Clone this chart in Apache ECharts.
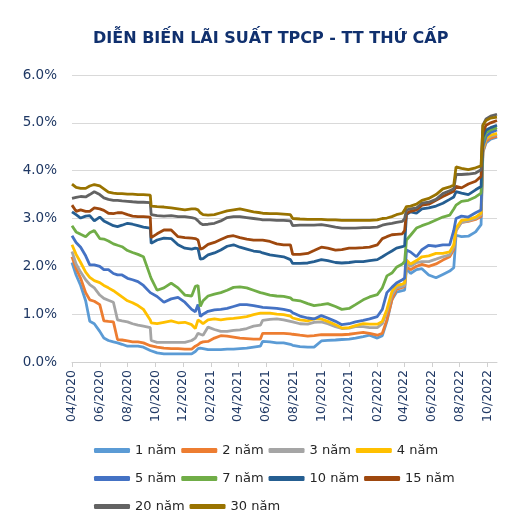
<!DOCTYPE html>
<html><head><meta charset="utf-8">
<script src="https://cdn.jsdelivr.net/npm/echarts@6/dist/echarts.min.js"></script>
<style>html,body{margin:0;padding:0;background:#fff}#c{width:520px;height:523px}</style>
</head><body><div id="c"></div>
<script>
const dates = ['2020-04-01','2020-04-10','2020-04-20','2020-05-01','2020-05-10','2020-05-20','2020-06-01','2020-06-10','2020-06-20','2020-07-01',
'2020-07-10','2020-07-20','2020-08-01','2020-08-12','2020-08-24','2020-09-05','2020-09-20','2020-09-22','2020-10-05','2020-10-20',
'2020-11-05','2020-11-20','2020-12-05','2020-12-20','2020-12-28','2021-01-03','2021-01-08','2021-01-14','2021-01-25','2021-02-08',
'2021-02-22','2021-03-08','2021-03-22','2021-04-05','2021-04-20','2021-05-05','2021-05-20','2021-05-25','2021-06-10','2021-06-25',
'2021-07-10','2021-07-25','2021-07-30','2021-08-15','2021-09-01','2021-09-15','2021-10-01','2021-10-15','2021-11-01','2021-11-15',
'2021-12-01','2021-12-15','2022-01-01','2022-01-15','2022-02-01','2022-02-12','2022-02-22','2022-03-05','2022-03-15','2022-03-28',
'2022-04-02','2022-04-06','2022-04-15','2022-04-28','2022-05-10','2022-05-25','2022-06-10','2022-06-25','2022-07-10','2022-07-19',
'2022-07-24','2022-08-05','2022-08-20','2022-09-05','2022-09-17','2022-09-21','2022-09-28','2022-10-08','2022-10-22'];

const tickLabels = ['04/2020','06/2020','08/2020','10/2020','12/2020','02/2021','04/2021','06/2021','08/2021','10/2021','12/2021','02/2022','04/2022','06/2022','08/2022','10/2022'];
const axisStart = '2020-04-01';
const axisEnd = '2022-10-22';

const seriesNames = ['1 năm','2 năm','3 năm','4 năm','5 năm','7 năm','10 năm','15 năm','20 năm','30 năm'];

const y1 = [2.08,1.82,1.6,1.28,0.85,0.8,0.64,0.5,0.45,0.42,
0.4,0.37,0.33,0.33,0.33,0.31,0.24,0.23,0.19,0.17,
0.17,0.17,0.17,0.17,0.22,0.28,0.29,0.28,0.26,0.26,
0.26,0.27,0.27,0.28,0.29,0.31,0.33,0.43,0.42,0.4,
0.4,0.37,0.35,0.32,0.31,0.31,0.44,0.45,0.46,0.47,
0.48,0.5,0.53,0.56,0.5,0.55,0.85,1.3,1.46,1.49,
1.5,1.96,1.85,1.93,1.95,1.82,1.76,1.83,1.9,1.97,
2.65,2.62,2.63,2.72,2.87,4.38,4.58,4.66,4.7];

const y2 = [2.2,1.95,1.75,1.45,1.3,1.27,1.2,0.86,0.85,0.84,
0.47,0.46,0.44,0.42,0.42,0.4,0.34,0.33,0.31,0.29,
0.28,0.28,0.27,0.27,0.33,0.36,0.4,0.42,0.43,0.5,
0.55,0.54,0.52,0.5,0.49,0.48,0.48,0.6,0.6,0.6,
0.6,0.59,0.58,0.56,0.54,0.55,0.57,0.57,0.57,0.57,
0.58,0.6,0.62,0.6,0.56,0.6,0.88,1.3,1.52,1.56,
1.58,1.99,1.93,2.0,2.04,2.0,2.05,2.13,2.2,2.35,
2.75,2.92,2.94,2.98,3.04,4.4,4.62,4.68,4.72];

const y3 = [2.31,2.05,1.88,1.72,1.62,1.55,1.4,1.33,1.29,1.25,
0.88,0.86,0.84,0.8,0.77,0.75,0.72,0.45,0.41,0.41,
0.41,0.41,0.41,0.45,0.5,0.6,0.58,0.56,0.73,0.68,
0.64,0.64,0.66,0.67,0.7,0.75,0.77,0.87,0.89,0.9,
0.88,0.85,0.84,0.8,0.79,0.83,0.84,0.8,0.74,0.7,
0.71,0.74,0.74,0.72,0.72,0.8,1.05,1.4,1.55,1.58,
1.6,2.06,2.0,2.08,2.1,2.1,2.15,2.2,2.24,2.4,
2.75,2.92,2.95,3.0,3.08,4.45,4.66,4.72,4.76];

const y4 = [2.45,2.25,2.08,1.88,1.77,1.7,1.66,1.6,1.55,1.49,
1.43,1.36,1.28,1.24,1.18,1.1,0.88,0.82,0.8,0.83,
0.86,0.82,0.83,0.78,0.7,0.88,0.85,0.8,0.88,0.9,
0.88,0.9,0.91,0.93,0.95,0.99,1.02,1.02,1.02,1.0,
0.99,0.96,0.92,0.88,0.86,0.9,0.9,0.85,0.78,0.71,
0.72,0.76,0.8,0.79,0.79,0.85,1.1,1.47,1.6,1.63,
1.65,2.13,2.05,2.12,2.2,2.22,2.27,2.27,2.3,2.45,
2.8,2.96,2.98,3.03,3.11,4.45,4.68,4.74,4.78];

const y5 = [2.64,2.5,2.4,2.22,2.03,2.03,2.0,1.93,1.93,1.85,
1.82,1.82,1.75,1.72,1.68,1.6,1.45,1.42,1.37,1.25,
1.32,1.35,1.25,1.1,1.05,1.2,0.95,1.0,1.06,1.09,
1.1,1.12,1.16,1.2,1.2,1.18,1.15,1.14,1.13,1.12,
1.1,1.07,1.03,0.96,0.92,0.9,0.97,0.92,0.85,0.78,
0.8,0.84,0.87,0.9,0.95,1.1,1.45,1.56,1.65,1.72,
1.75,2.34,2.3,2.2,2.35,2.44,2.42,2.45,2.45,2.75,
3.0,3.05,3.03,3.12,3.18,4.5,4.72,4.8,4.85];

const y7 = [2.85,2.72,2.67,2.62,2.7,2.75,2.58,2.57,2.53,2.47,
2.44,2.41,2.33,2.29,2.25,2.2,1.8,1.75,1.5,1.55,
1.65,1.55,1.4,1.38,1.58,1.6,1.16,1.28,1.38,1.42,
1.45,1.5,1.56,1.57,1.55,1.5,1.45,1.44,1.4,1.38,
1.37,1.34,1.3,1.28,1.22,1.18,1.2,1.22,1.16,1.1,
1.12,1.2,1.3,1.36,1.41,1.55,1.8,1.86,1.98,2.05,
2.1,2.55,2.65,2.8,2.85,2.9,2.97,3.03,3.07,3.2,
3.28,3.36,3.38,3.45,3.53,4.6,4.8,4.85,4.9];

const y10 = [3.14,3.08,3.01,3.05,3.06,2.95,3.03,2.95,2.9,2.85,
2.83,2.86,2.9,2.88,2.85,2.82,2.8,2.48,2.55,2.59,
2.58,2.45,2.38,2.36,2.38,2.37,2.15,2.16,2.24,2.28,
2.34,2.42,2.45,2.4,2.36,2.32,2.3,2.28,2.24,2.22,
2.2,2.14,2.06,2.06,2.07,2.1,2.14,2.12,2.08,2.07,
2.08,2.1,2.1,2.12,2.14,2.2,2.26,2.32,2.38,2.41,
2.43,3.08,3.14,3.11,3.2,3.22,3.26,3.32,3.4,3.45,
3.56,3.53,3.5,3.6,3.67,4.7,4.85,4.9,4.95];

const y15 = [3.28,3.15,3.18,3.15,3.15,3.22,3.2,3.17,3.11,3.1,
3.12,3.12,3.08,3.05,3.04,3.04,3.03,2.6,2.68,2.76,
2.76,2.62,2.6,2.59,2.58,2.55,2.36,2.38,2.46,2.5,
2.56,2.62,2.64,2.6,2.57,2.55,2.55,2.55,2.52,2.47,
2.45,2.45,2.25,2.25,2.27,2.33,2.4,2.38,2.34,2.35,
2.38,2.38,2.39,2.4,2.45,2.58,2.62,2.66,2.67,2.68,
2.75,3.11,3.15,3.18,3.28,3.3,3.38,3.46,3.53,3.57,
3.67,3.64,3.72,3.78,3.88,4.8,4.95,5.0,5.05];

const y20 = [3.42,3.44,3.46,3.45,3.5,3.56,3.5,3.43,3.4,3.38,
3.38,3.37,3.36,3.35,3.34,3.34,3.33,3.08,3.06,3.05,
3.06,3.04,3.04,3.02,3.0,2.95,2.9,2.87,2.88,2.9,
2.95,3.02,3.04,3.04,3.02,3.0,2.98,2.97,2.97,2.96,
2.96,2.95,2.85,2.86,2.86,2.86,2.87,2.85,2.82,2.8,
2.8,2.8,2.81,2.81,2.82,2.86,2.88,2.9,2.92,2.94,
3.0,3.18,3.2,3.22,3.32,3.34,3.4,3.52,3.58,3.62,
3.92,3.92,3.93,3.95,4.02,4.95,5.08,5.14,5.18];

const y30 = [3.72,3.65,3.63,3.63,3.68,3.71,3.68,3.62,3.55,3.53,
3.52,3.52,3.51,3.51,3.5,3.5,3.49,3.26,3.25,3.24,
3.22,3.2,3.18,3.2,3.2,3.18,3.12,3.08,3.07,3.08,
3.12,3.16,3.18,3.2,3.17,3.14,3.12,3.11,3.1,3.1,
3.09,3.08,3.0,2.99,2.98,2.98,2.98,2.97,2.97,2.96,
2.96,2.96,2.96,2.96,2.97,3.0,3.01,3.04,3.08,3.11,
3.18,3.25,3.26,3.3,3.38,3.42,3.5,3.62,3.66,3.7,
4.08,4.05,4.02,4.06,4.1,4.95,5.05,5.1,5.12];

const seriesValues = [y1,y2,y3,y4,y5,y7,y10,y15,y20,y30];
const colors = ['#5B9BD5','#ED7D31','#A5A5A5','#FFC000','#4472C4','#70AD47','#255E91','#9E480E','#636363','#997300'];

const DAY = 86400000;
function utc(y, m, d){ return Date.UTC(y, m - 1, d); }
function dayOf(s){ const p = s.split('-').map(Number); return Math.round((utc(p[0], p[1], p[2]) - utc(2020, 4, 1)) / DAY); }
const tickDays = tickLabels.map(l => { const p = l.split('/').map(Number); return Math.round((utc(p[1], p[0], 1) - utc(2020, 4, 1)) / DAY); });
const xDays = dates.map(dayOf);

const FONT = 'DejaVu Sans';
const legendCommon = {
  icon: 'roundRect', itemWidth: 36, itemHeight: 5, itemGap: 5, left: 89,
  textStyle: { fontFamily: FONT, fontSize: 13, color: '#262626', width: 53 },
  selectedMode: false
};

const chart = echarts.init(document.getElementById('c'), null, {renderer: 'canvas'});
chart.setOption({
  animation: false,
  color: colors,
  title: {
    text: 'DIỄN BIẾN LÃI SUẤT TPCP - TT THỨ CẤP',
    left: 88, top: 26,
    textStyle: { fontFamily: FONT, fontSize: 16, fontWeight: 'bold', color: '#10306e' }
  },
  legend: [
    Object.assign({}, legendCommon, { data: seriesNames.slice(0,4), top: 439 }),
    Object.assign({}, legendCommon, { data: seriesNames.slice(4,8), top: 467 }),
    Object.assign({}, legendCommon, { data: seriesNames.slice(8), top: 495 })
  ],
  grid: { left: 72, right: 23, top: 75, bottom: 161 },
  xAxis: {
    type: 'value',
    min: dayOf(axisStart), max: dayOf(axisEnd),
    axisLine: { show: true, lineStyle: { color: '#d0d0d0', width: 1 } },
    axisTick: { show: true, customValues: tickDays, length: 5, lineStyle: { color: '#d0d0d0' } },
    axisLabel: {
      customValues: tickDays,
      rotate: 90, margin: 8,
      fontFamily: FONT, fontSize: 12.5, color: '#1f3864',
      formatter: v => { const i = tickDays.indexOf(v); return i >= 0 ? tickLabels[i] : ''; }
    },
    splitLine: { show: false }
  },
  yAxis: {
    type: 'value', min: 0, max: 6, interval: 1,
    axisLine: { show: false }, axisTick: { show: false },
    axisLabel: { fontFamily: FONT, fontSize: 13.5, color: '#1f3864', margin: 15, formatter: v => v.toFixed(1) + '%' },
    splitLine: { lineStyle: { color: '#d9d9d9', width: 1 } }
  },
  series: seriesNames.map((n, k) => ({
    name: n, type: 'line', showSymbol: false, symbol: 'none',
    data: xDays.map((t, i) => [t, seriesValues[k][i]]),
    lineStyle: { width: 2.8, color: colors[k] },
    itemStyle: { color: colors[k] },
    emphasis: { disabled: true }
  }))
});
</script>
</body></html>
